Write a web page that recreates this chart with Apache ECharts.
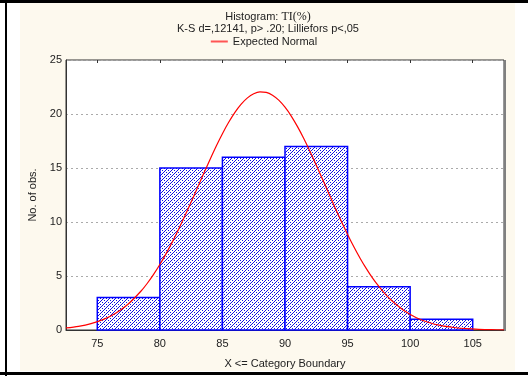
<!DOCTYPE html>
<html><head><meta charset="utf-8">
<script src="https://cdn.jsdelivr.net/npm/echarts@6/dist/echarts.min.js"></script>
<style>html,body{margin:0;padding:0;background:#fff}#c{width:528px;height:376px}</style>
</head><body><div id="c"></div>
<script>
// Histogram bins (X <= Category Boundary)
const binStart = [75, 80, 85, 90, 95, 100];
const binEnd   = [80, 85, 90, 95, 100, 105];
const counts   = [3, 15, 16, 17, 4, 1];
// Expected normal curve
const curveX = [72.5,73.5,74.5,75.5,76.5,77.5,78.5,79,79.5,80,80.5,81,81.5,82,82.5,83,83.5,84,84.5,85,85.5,86,86.5,87,87.5,88,88.5,89,89.5,90,90.5,91,91.5,92,92.5,93,93.5,94,94.5,95,95.5,96,96.5,97,97.5,98,98.5,99.5,100.5,101.5,102.5,103.5,104.5,105.5,106.5,107.5];
const curveY = [0.19,0.34,0.59,0.98,1.57,2.43,3.61,4.33,5.15,6.06,7.07,8.16,9.33,10.57,11.85,13.16,14.48,15.77,17.02,18.18,19.23,20.15,20.91,21.49,21.87,22.04,22.00,21.74,21.28,20.63,19.81,18.83,17.73,16.53,15.26,13.96,12.64,11.33,10.06,8.85,7.71,6.65,5.68,4.80,4.03,3.34,2.75,1.80,1.14,0.69,0.40,0.23,0.12,0.06,0.03,0.02];
const xTicks = [75, 80, 85, 90, 95, 100, 105];
const yTicks = [0, 5, 10, 15, 20, 25];

const FONT = 'Liberation Sans, Arial, sans-serif';
const pc = document.createElement('canvas');
pc.width = 6; pc.height = 6;
const g = pc.getContext('2d');
g.fillStyle = '#ffffff'; g.fillRect(0,0,6,6);
g.fillStyle = '#1010e0';
for (let x = 0; x < 6; x++) for (let y = 0; y < 6; y++) {
  if ((x + y) % 3 === 2 && (x % 2 === 0)) g.fillRect(x, y, 1, 1);
  if ((x + y) % 3 === 2 && (x % 2 === 1) && (y % 2 === 0)) g.fillRect(x, y, 1, 1);
}
const pattern = {image: pc, repeat: 'repeat'};

const chart = echarts.init(document.getElementById('c'), null, {renderer: 'canvas'});
chart.setOption({
  animation: false,
  backgroundColor: '#ffffff',
  graphic: [
    {type: 'rect', z: -10, shape: {x: 20, y: 3, width: 495, height: 368}, style: {fill: '#fdf9ee'}},
    {type: 'rect', z: -9, shape: {x: 0, y: 0, width: 528, height: 3}, style: {fill: '#000'}},
    {type: 'rect', z: -9, shape: {x: 5, y: 0, width: 2, height: 376}, style: {fill: '#000'}},
    {type: 'rect', z: -9, shape: {x: 0, y: 372, width: 528, height: 3}, style: {fill: '#000'}},
    {type: 'rect', z: 10, shape: {x: 504, y: 60, width: 2, height: 271}, style: {fill: '#808080'}}
  ],
  title: [
    {text: 'Histogram: {s|TI(%)}', left: 263, top: 6, textAlign: 'center',
     textStyle: {fontFamily: FONT, fontSize: 11, fontWeight: 'normal', color: '#222',
       rich: {s: {fontFamily: 'Liberation Serif, Times New Roman, serif', fontSize: 12, color: '#222'}}}},
    {text: 'K-S d=,12141, p> .20; Lilliefors p<,05', left: 263, top: 18, textAlign: 'center',
     textStyle: {fontFamily: FONT, fontSize: 11, fontWeight: 'normal', color: '#222'}}
  ],
  legend: {
    top: 31, left: 'center',
    data: [{name: 'Expected Normal', icon: 'rect'}],
    itemWidth: 17, itemHeight: 2, itemGap: 5,
    textStyle: {fontFamily: FONT, fontSize: 11, color: '#222'}
  },
  grid: {left: 66, top: 60, right: 24, bottom: 46, show: true,
    backgroundColor: '#ffffff', borderColor: '#333', borderWidth: 1},
  xAxis: [{
    type: 'value', min: 72.5, max: 107.5,
    name: 'X <= Category Boundary', nameLocation: 'middle', nameGap: 28,
    nameTextStyle: {fontFamily: FONT, fontSize: 11, color: '#222'},
    axisLine: {show: true, lineStyle: {color: '#333'}},
    axisTick: {show: false},
    splitLine: {show: false},
    axisLabel: {customValues: xTicks, fontFamily: FONT, fontSize: 11, color: '#222', margin: 8}
  }, {
    type: 'value', position: 'top', min: 72.5, max: 107.5,
    axisLine: {show: false},
    axisTick: {show: true, inside: true, length: 3, customValues: xTicks, lineStyle: {color: '#333'}},
    axisLabel: {show: false},
    splitLine: {show: false}
  }],
  yAxis: {
    type: 'value', min: 0, max: 25, interval: 5,
    name: 'No. of obs.', nameLocation: 'middle', nameGap: 28,
    nameTextStyle: {fontFamily: FONT, fontSize: 11, color: '#222'},
    axisLine: {show: true, lineStyle: {color: '#333'}},
    axisTick: {show: false},
    splitLine: {show: true, lineStyle: {color: '#aaaaaa', type: [2, 3], width: 1}},
    axisLabel: {customValues: yTicks, fontFamily: FONT, fontSize: 11, color: '#222', margin: 4}
  },
  series: [{
    type: 'custom', name: 'bars',
    data: counts.map((c, i) => [binStart[i], binEnd[i], c]),
    encode: {x: [0, 1], y: 2},
    renderItem: function (params, api) {
      const p0 = api.coord([api.value(0), api.value(2)]);
      const p1 = api.coord([api.value(1), 0]);
      return {type: 'rect',
        shape: {x: p0[0], y: p0[1], width: p1[0] - p0[0], height: p1[1] - p0[1]},
        style: {fill: pattern, stroke: '#0000ff', lineWidth: 1.5}};
    },
    z: 2
  }, {
    type: 'line', name: 'Expected Normal',
    data: curveX.map((x, i) => [x, curveY[i]]),
    smooth: 0.3, showSymbol: false, symbol: 'none',
    lineStyle: {color: '#ff0000', width: 1.2},
    itemStyle: {color: '#ff5555'},
    z: 3
  }]
});
</script></body></html>
